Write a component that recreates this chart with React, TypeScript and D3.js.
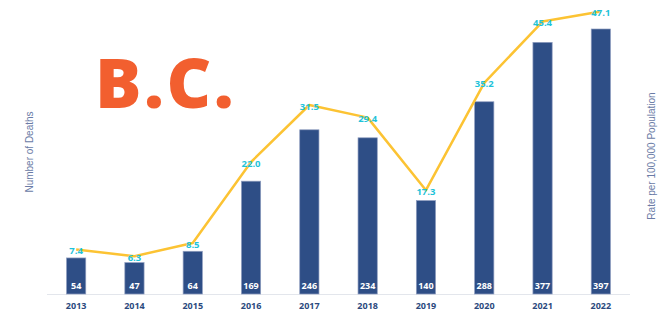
import React, { useEffect, useRef } from "react";
import * as d3 from "d3";

const years = ["2013", "2014", "2015", "2016", "2017", "2018", "2019", "2020", "2021", "2022"];
const deaths = [54, 47, 64, 169, 246, 234, 140, 288, 377, 397];
const rates = [7.4, 6.3, 8.5, 22.0, 31.5, 29.4, 17.3, 35.2, 45.4, 47.1];
const title = "B.C.";

const W = 664;
const H = 313;

const App: React.FC = () => {
  const svgRef = useRef<SVGSVGElement>(null);

  useEffect(() => {
    if (!svgRef.current) return;
    const svg = d3.select(svgRef.current).html("");
    const margin = { top: 6, right: 34, bottom: 19, left: 47 };
    const baseY = H - margin.bottom;

    const x = d3
      .scaleBand<string>()
      .domain(years)
      .range([margin.left, W - margin.right])
      .paddingInner(0.67)
      .paddingOuter(0.335);

    const yBar = d3.scaleLinear().domain([0, 400]).range([baseY, 27]);
    const yRate = d3.scaleLinear().domain([0, 48]).range([baseY, margin.top]);

    const font = "'Open Sans', 'DejaVu Sans', sans-serif";

    // title
    svg
      .append("text")
      .attr("x", 95)
      .attr("y", 108)
      .attr("fill", "#f25f2f")
      .attr("font-family", font)
      .attr("font-weight", 800)
      .attr("font-size", 69)
      .attr("letter-spacing", 2.5)
      .text(title);

    // axis line
    svg
      .append("line")
      .attr("x1", margin.left)
      .attr("x2", W - margin.right)
      .attr("y1", baseY + 0.5)
      .attr("y2", baseY + 0.5)
      .attr("stroke", "#e3e6ec")
      .attr("stroke-width", 1);

    // bars
    svg
      .append("g")
      .selectAll("rect")
      .data(deaths)
      .join("rect")
      .attr("x", (d, i) => x(years[i])!)
      .attr("width", x.bandwidth())
      .attr("y", (d) => yBar(d))
      .attr("height", (d) => baseY - yBar(d))
      .attr("fill", "#2e4e86")
      .attr("stroke", "#8f9dbf")
      .attr("stroke-width", 0.7);

    // bar value labels
    svg
      .append("g")
      .selectAll("text")
      .data(deaths)
      .join("text")
      .attr("x", (d, i) => x(years[i])! + x.bandwidth() / 2)
      .attr("y", baseY - 5)
      .attr("text-anchor", "middle")
      .attr("fill", "#ffffff")
      .attr("font-family", font)
      .attr("font-weight", 700)
      .attr("font-size", 9)
      .text((d) => d);

    // year labels
    svg
      .append("g")
      .selectAll("text")
      .data(years)
      .join("text")
      .attr("x", (d) => x(d)! + x.bandwidth() / 2)
      .attr("y", baseY + 15)
      .attr("text-anchor", "middle")
      .attr("fill", "#2c4a7e")
      .attr("font-family", font)
      .attr("font-weight", 700)
      .attr("font-size", 9)
      .text((d) => d);

    // rate line
    const line = d3
      .line<number>()
      .x((d, i) => x(years[i])! + x.bandwidth() / 2)
      .y((d) => yRate(d));

    svg
      .append("path")
      .datum(rates)
      .attr("fill", "none")
      .attr("stroke", "#fcc333")
      .attr("stroke-width", 2.5)
      .attr("stroke-linejoin", "round")
      .attr("d", line);

    // rate labels
    svg
      .append("g")
      .selectAll("text")
      .data(rates)
      .join("text")
      .attr("x", (d, i) => x(years[i])! + x.bandwidth() / 2)
      .attr("y", (d) => yRate(d) + 1)
      .attr("dominant-baseline", "central")
      .attr("text-anchor", "middle")
      .attr("fill", "#1fc3d9")
      .attr("font-family", font)
      .attr("font-weight", 700)
      .attr("font-size", 9.5)
      .text((d) => d.toFixed(1));

    // axis titles
    svg
      .append("text")
      .attr("transform", `translate(33,152) rotate(-90)`)
      .attr("text-anchor", "middle")
      .attr("fill", "#6a7ba6")
      .attr("font-family", "'Liberation Sans', Arial, sans-serif")
      .attr("font-size", 10)
      .text("Number of Deaths");

    svg
      .append("text")
      .attr("transform", `translate(655,156) rotate(-90)`)
      .attr("text-anchor", "middle")
      .attr("fill", "#6a7ba6")
      .attr("font-family", "'Liberation Sans', Arial, sans-serif")
      .attr("font-size", 10)
      .text("Rate per 100,000 Population");
  }, []);

  return (
    <div style={{ position: "fixed", left: 0, top: 0, width: W, height: H, background: "#fff" }}>
      <svg ref={svgRef} width={W} height={H} style={{ display: "block" }} />
    </div>
  );
};

export default App;
